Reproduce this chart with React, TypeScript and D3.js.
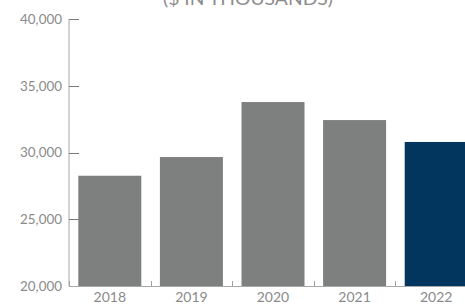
import React, { useEffect } from 'react';
import * as d3 from 'd3';

const years = ['2018', '2019', '2020', '2021', '2022'];
const values = [28260, 29660, 33780, 32430, 30790];
const highlight = ['2022'];
const yTicks = [20000, 25000, 30000, 35000, 40000];
const title = '($ IN THOUSANDS)';

const width = 465;
const height = 306;

export default function App() {
  useEffect(() => {
    document.body.style.margin = '0';
  }, []);

  const x = d3.scaleBand<string>()
    .domain(years)
    .range([69, 477])
    .paddingInner(0.228)
    .paddingOuter(0.114);

  const y = d3.scaleLinear()
    .domain([20000, 40000])
    .range([286, 19]);

  const fmt = d3.format(',');
  const step = x.step();
  const x0 = x.range()[0];

  return (
    <svg width={width} height={height} style={{ display: 'block' }} fontFamily="Lato, 'Open Sans', sans-serif">
      {/* title sits partly above the top edge, as in the source */}
      <text x={248} y={5} textAnchor="middle" fontSize={17} fill="#8c8c8c" textLength={170} lengthAdjust="spacingAndGlyphs">
        {title}
      </text>

      {/* bars */}
      {years.map((yr, i) => (
        <rect
          key={yr}
          x={x(yr)}
          y={y(values[i])}
          width={x.bandwidth()}
          height={y(20000) - y(values[i])}
          fill={highlight.includes(yr) ? '#03365f' : '#7d807e'}
        />
      ))}

      {/* y axis */}
      <line x1={69} x2={69} y1={y(40000)} y2={y(20000)} stroke="#a8a8a8" strokeWidth={1} />
      {yTicks.map(t => (
        <g key={t}>
          <line x1={69} x2={79} y1={Math.round(y(t)) + 0.5} y2={Math.round(y(t)) + 0.5} stroke="#7a7a7a" strokeWidth={1} />
          <text x={62} y={y(t)} dy="0.35em" textAnchor="end" fontSize={14} fill="#8a8a8a" textLength={42} lengthAdjust="spacingAndGlyphs">
            {fmt(t)}
          </text>
        </g>
      ))}

      {/* x axis */}
      <line x1={69} x2={width} y1={286.5} y2={286.5} stroke="#a8a8a8" strokeWidth={1} />
      {d3.range(years.length).map(i => (
        <line
          key={i}
          x1={Math.round(x0 + i * step) + 0.5}
          x2={Math.round(x0 + i * step) + 0.5}
          y1={281}
          y2={286}
          stroke="#a0a0a0"
          strokeWidth={1}
        />
      ))}
      {years.map(yr => (
        <text key={yr} x={(x(yr) ?? 0) + x.bandwidth() / 2} y={302} textAnchor="middle" fontSize={14} fill="#8a8a8a">
          {yr}
        </text>
      ))}
    </svg>
  );
}
